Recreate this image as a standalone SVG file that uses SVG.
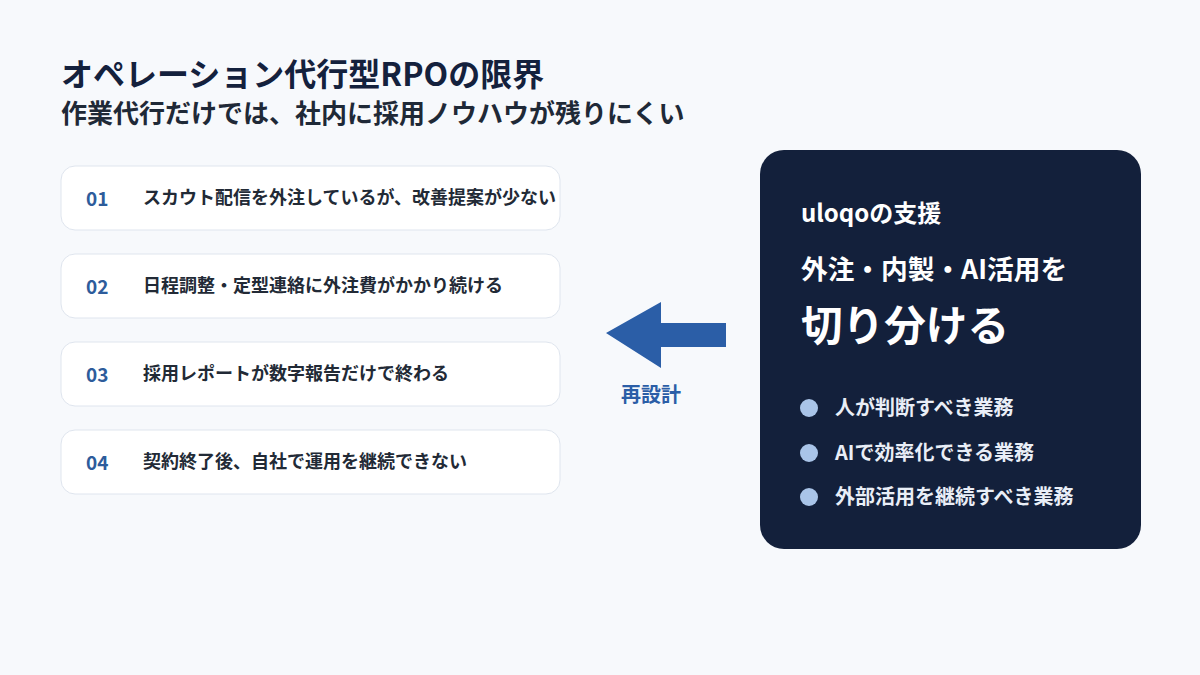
<svg xmlns="http://www.w3.org/2000/svg" width="1200" height="675" viewBox="0 0 1200 675">
<style>
text{font-family:"Noto Sans CJK JP","Noto Sans",sans-serif;font-weight:700}
.card{fill:#ffffff;stroke:#dfe5ee;stroke-width:1}
.num{font-size:19px;fill:#2d5c9b}
.ct{font-size:18px;fill:#222a36}
.bul{fill:#a9c4e8}
.bt{font-size:20px;fill:#e9eef7}
</style>
<rect width="1200" height="675" fill="#f7f9fc"/>
<g id="title">
<text x="61" y="86" font-size="32" fill="#14213d">オペレーション代行型RPOの限界</text>
<text x="61" y="123" font-size="26" fill="#1f2937">作業代行だけでは、社内に採用ノウハウが残りにくい</text>
</g>
<g id="item1"><rect class="card" x="61" y="166" width="499" height="64" rx="14"/><text class="num" x="86" y="206">01</text><text class="ct" x="143" y="204">スカウト配信を外注しているが、改善提案が少ない</text></g>
<g id="item2"><rect class="card" x="61" y="254" width="499" height="64" rx="14"/><text class="num" x="86" y="294">02</text><text class="ct" x="143" y="292">日程調整・定型連絡に外注費がかかり続ける</text></g>
<g id="item3"><rect class="card" x="61" y="342" width="499" height="64" rx="14"/><text class="num" x="86" y="382">03</text><text class="ct" x="143" y="380">採用レポートが数字報告だけで終わる</text></g>
<g id="item4"><rect class="card" x="61" y="430" width="499" height="64" rx="14"/><text class="num" x="86" y="470">04</text><text class="ct" x="143" y="468">契約終了後、自社で運用を継続できない</text></g>
<g id="connectors">
<polygon points="726,323 661,323 661,302 606,333 661,368 661,347 726,347" fill="#2b5ea7"/>
<text x="651" y="402" font-size="20" fill="#2b5ea7" text-anchor="middle">再設計</text>
</g>
<g id="panel">
<rect x="760" y="150" width="381" height="399" rx="24" fill="#13203b"/>
<text x="801" y="222" font-size="24" fill="#ffffff">uloqoの支援</text>
<text x="801" y="279" font-size="26.7" fill="#ffffff">外注・内製・AI活用を</text>
<text x="801" y="341" font-size="41.6" fill="#ffffff">切り分ける</text>
<circle class="bul" cx="809" cy="408" r="9"/><text class="bt" x="835" y="415">人が判断すべき業務</text>
<circle class="bul" cx="809" cy="453" r="9"/><text class="bt" x="835" y="460">AIで効率化できる業務</text>
<circle class="bul" cx="809" cy="497" r="9"/><text class="bt" x="835" y="504">外部活用を継続すべき業務</text>
</g>
</svg>
